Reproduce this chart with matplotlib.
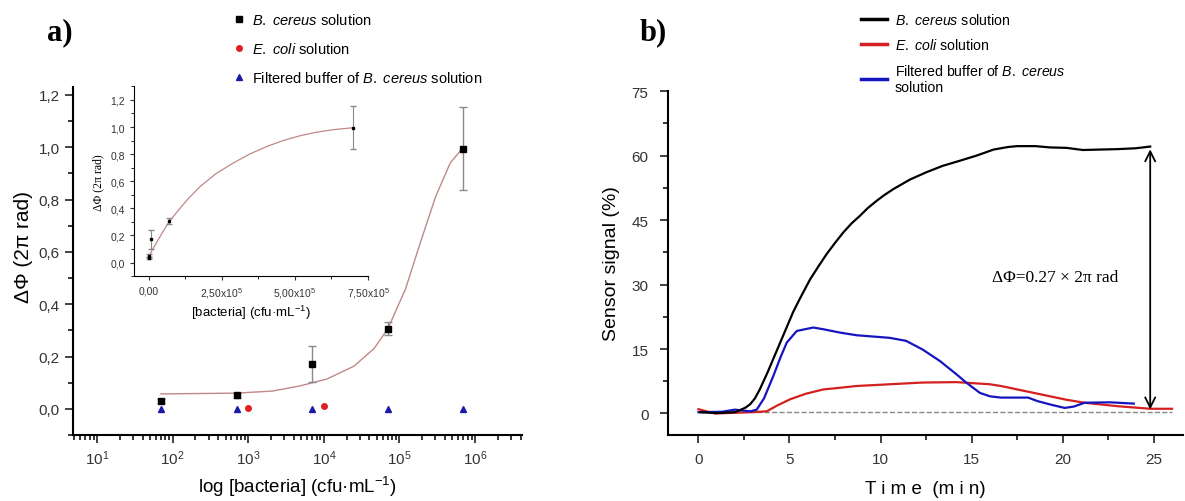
import numpy as np
import matplotlib.pyplot as plt
from matplotlib.lines import Line2D
from matplotlib.ticker import FuncFormatter, MultipleLocator, LogLocator, NullFormatter

plt.rcParams['font.family'] = ['Liberation Sans', 'DejaVu Sans']
plt.rcParams['mathtext.fontset'] = 'custom'
plt.rcParams['mathtext.rm'] = 'Liberation Sans'
plt.rcParams['mathtext.it'] = 'Liberation Sans:italic'

# ---- panel a data ----
conc = [70, 700, 7000, 70000, 700000]
bc_dphi = [0.031, 0.051, 0.172, 0.306, 0.995]
bc_err = [0.008, 0.010, 0.070, 0.025, 0.160]
ecoli_conc = [1000, 10000]
ecoli_dphi = [0.004, 0.009]
filt_dphi = [0.0, 0.0, 0.0, 0.0, 0.0]

fit_x = [70, 700, 2100, 4900, 1.1e4, 2.5e4, 4.6e4, 7e4, 1.2e5, 1.9e5, 3.0e5, 4.7e5, 7e5]
fit_y = [0.057, 0.060, 0.068, 0.088, 0.114, 0.163, 0.230, 0.305, 0.457, 0.637, 0.810, 0.940, 1.0]

inset_fit_x = [0, 1.1e4, 2.8e4, 5e4, 7e4, 1.0e5, 1.35e5, 1.76e5, 2.3e5, 2.9e5, 3.45e5,
               4.03e5, 4.6e5, 5.17e5, 5.7e5, 6.3e5, 7e5]
inset_fit_y = [0.04, 0.085, 0.15, 0.23, 0.30, 0.38, 0.47, 0.56, 0.655, 0.735, 0.80,
               0.855, 0.90, 0.935, 0.96, 0.98, 0.995]

# ---- panel b data ----
t_bc = [0.1, 1.0, 2.0, 2.29, 2.6, 2.85, 3.1, 3.37, 3.8, 4.3, 4.86, 5.2, 5.58, 6.13, 6.6,
        7.04, 7.5, 7.95, 8.4, 8.87, 9.3, 9.79, 10.2, 10.7, 11.6, 12.5, 13.4, 14.35, 15.27,
        16.2, 17.0, 17.5, 18.5, 19.3, 20.2, 21.1, 22.0, 23.0, 24.0, 24.8]
s_bc = [0.3, 0.1, 0.3, 0.8, 1.4, 2.2, 3.5, 5.6, 9.6, 14.6, 20.2, 23.6, 26.8, 31.2, 34.3,
        37.1, 39.7, 42.1, 44.2, 46.0, 47.8, 49.5, 50.8, 52.2, 54.4, 56.1, 57.6, 58.8, 60.0,
        61.4, 62.0, 62.2, 62.2, 61.9, 61.8, 61.3, 61.4, 61.5, 61.7, 62.1]

t_filt = [0.0, 1.3, 2.0, 2.85, 3.2, 3.6, 4.11, 4.5, 4.85, 5.4, 6.3, 6.86, 7.8, 8.69, 9.6,
          10.5, 11.4, 12.3, 13.26, 14.17, 14.7, 15.45, 16.0, 16.6, 18.1, 18.6, 19.4,
          20.1, 20.6, 21.2, 22.6, 23.9]
s_filt = [0.3, 0.4, 0.9, 0.5, 0.9, 3.5, 8.7, 13.0, 16.5, 19.2, 20.0, 19.6, 18.8, 18.2, 17.9,
          17.6, 16.9, 14.9, 12.2, 9.1, 7.2, 4.8, 4.0, 3.7, 3.7, 2.9, 2.0,
          1.3, 1.6, 2.5, 2.6, 2.3]

t_ec = [0.0, 0.9, 2.85, 3.75, 4.3, 5.03, 5.9, 6.86, 7.8, 8.69, 10.5, 12.3, 14.17, 16.0,
        16.6, 17.5, 18.4, 19.3, 20.2, 21.2, 22.1, 23.0, 24.8, 26.0]
s_ec = [1.0, 0.0, 0.3, 0.5, 1.8, 3.3, 4.6, 5.6, 6.0, 6.4, 6.8, 7.2, 7.3, 6.8,
        6.4, 5.6, 4.8, 4.0, 3.2, 2.5, 2.1, 1.7, 1.1, 1.1]

fig = plt.figure(figsize=(11.85, 5.02), dpi=100)

comma = FuncFormatter(lambda v, p: ('%.1f' % v).replace('.', ','))

# ================= panel a =================
ax = fig.add_axes([0.0616, 0.1315, 0.379, 0.693])
ax.errorbar(conc, bc_dphi, yerr=bc_err, fmt='s', color='black', ms=4,
            ecolor='#8a8a8a', elinewidth=1, capsize=3, zorder=3)
ax.plot(ecoli_conc, ecoli_dphi, 'o', color='#e02020', ms=4)
ax.plot(conc, filt_dphi, '^', color='#1a1aa8', ms=4.5)
ax.plot(fit_x, fit_y, color='#c08888', lw=1)
ax.set_xscale('log')
ax.set_xlim(4.8, 4.2e6)
ax.set_ylim(-0.1, 1.23)
ax.spines['top'].set_visible(False)
ax.spines['right'].set_visible(False)
ax.spines['left'].set_linewidth(1.5)
ax.spines['bottom'].set_linewidth(1.5)
ax.yaxis.set_major_locator(MultipleLocator(0.2))
ax.yaxis.set_minor_locator(MultipleLocator(0.1))
ax.yaxis.set_major_formatter(comma)
ax.xaxis.set_major_locator(LogLocator(base=10, numticks=10))
ax.xaxis.set_minor_locator(LogLocator(base=10, subs=np.arange(2, 10), numticks=20))
ax.xaxis.set_minor_formatter(NullFormatter())
ax.tick_params(which='major', direction='out', length=6, width=1.3, labelsize=11, colors='#333333')
ax.tick_params(which='minor', direction='out', length=3.5, width=1.1)
ax.set_ylabel('ΔΦ (2π rad)', fontsize=15)
ax.yaxis.set_label_coords(-0.089, 0.543)
ax.set_xlabel('log [bacteria] (cfu·mL$^{-1}$)', fontsize=13.5, labelpad=5)

# inset
ins = fig.add_axes([0.113, 0.448, 0.1975, 0.378])
ins.errorbar(conc, bc_dphi, yerr=bc_err, fmt='s', color='black', ms=2,
             ecolor='#8a8a8a', elinewidth=0.8, capsize=2, zorder=3)
ins.plot(inset_fit_x, inset_fit_y, color='#c08888', lw=0.9)
ins.set_xlim(-5e4, 7.5e5)
ins.set_ylim(-0.1, 1.3)
ins.spines['top'].set_visible(False)
ins.spines['right'].set_visible(False)
ins.xaxis.set_minor_locator(MultipleLocator(1.25e5))
ins.set_xticks([0, 2.5e5, 5e5, 7.5e5])
ins.set_xticklabels(['0,00', '2,50x10$^5$', '5,00x10$^5$', '7,50x10$^5$'])
ins.yaxis.set_major_locator(MultipleLocator(0.2))
ins.yaxis.set_minor_locator(MultipleLocator(0.1))
ins.yaxis.set_major_formatter(comma)
ins.tick_params(which='major', direction='out', length=3, labelsize=7.5, colors='#333333')
ins.tick_params(which='minor', direction='out', length=2)
ins.set_ylabel('ΔΦ (2π rad)', fontsize=8.5, family='Liberation Serif')
ins.set_xlabel('[bacteria] (cfu·mL$^{-1}$)', fontsize=9.5, labelpad=2)

fig.text(0.040, 0.935, 'a)', fontsize=22, fontweight='bold', family='Liberation Serif',
         va='center')

h_a = [Line2D([], [], ls='none', marker='s', color='black', ms=4),
       Line2D([], [], ls='none', marker='o', color='#e02020', ms=4),
       Line2D([], [], ls='none', marker='^', color='#1a1aa8', ms=4.5)]
lab_a = [r'$\it{B.\ cereus}$ solution', r'$\it{E.\ coli}$ solution',
         r'Filtered buffer of $\it{B.\ cereus}$ solution']
fig.legend(h_a, lab_a, loc='upper left', bbox_to_anchor=(0.186, 1.0), frameon=False,
           fontsize=10.5, handlelength=0.8, handletextpad=0.45, labelspacing=0.95)

# ================= panel b =================
bx = fig.add_axes([0.5637, 0.1315, 0.4346, 0.685])
bx.plot([0, 26], [0.3, 0.3], ls='--', color='#888888', lw=1)
bx.plot(t_ec, s_ec, color='#d42020', lw=1.6)
bx.plot(t_filt, s_filt, color='#1515c0', lw=1.6)
bx.plot(t_bc, s_bc, color='black', lw=1.6)
bx.annotate('', xy=(24.8, 0.3), xytext=(24.8, 62.1),
            arrowprops=dict(arrowstyle='<->', color='black', lw=1.3, mutation_scale=18))
bx.text(19.6, 31.7, 'ΔΦ=0.27 × 2π rad', ha='center', va='center', fontsize=12.5,
        family='Liberation Serif')
bx.set_xlim(-1.67, 26.6)
bx.set_ylim(-5, 75)
bx.spines['top'].set_visible(False)
bx.spines['right'].set_visible(False)
bx.spines['left'].set_linewidth(1.5)
bx.spines['bottom'].set_linewidth(1.5)
bx.xaxis.set_major_locator(MultipleLocator(5))
bx.xaxis.set_minor_locator(MultipleLocator(2.5))
bx.yaxis.set_major_locator(MultipleLocator(15))
bx.yaxis.set_minor_locator(MultipleLocator(7.5))
bx.tick_params(which='major', direction='out', length=6, width=1.3, labelsize=11, colors='#333333')
bx.tick_params(which='minor', direction='out', length=3.5, width=1.1)
bx.tick_params(axis='x', which='major', pad=6)
bx.tick_params(axis='y', which='major', pad=8)
bx.set_ylabel('Sensor signal (%)', fontsize=14)
bx.yaxis.set_label_coords(-0.093, 0.5)
bx.set_xlabel('T i m e  (m i n)', fontsize=13.5, labelpad=10)

fig.text(0.54, 0.935, 'b)', fontsize=22, fontweight='bold', family='Liberation Serif',
         va='center')

h_b = [Line2D([], [], color='black', lw=2.5),
       Line2D([], [], color='#d42020', lw=2.5),
       Line2D([], [], color='#1515c0', lw=2.5)]
lab_b = [r'$\it{B.\ cereus}$ solution', r'$\it{E.\ coli}$ solution',
         'Filtered buffer of $\\it{B.\\ cereus}$\nsolution']
fig.legend(h_b, lab_b, loc='upper left', bbox_to_anchor=(0.716, 1.0), frameon=False,
           fontsize=10.2, handlelength=1.8, handletextpad=0.55, labelspacing=0.75)

fig.savefig('out.png', dpi=100)
